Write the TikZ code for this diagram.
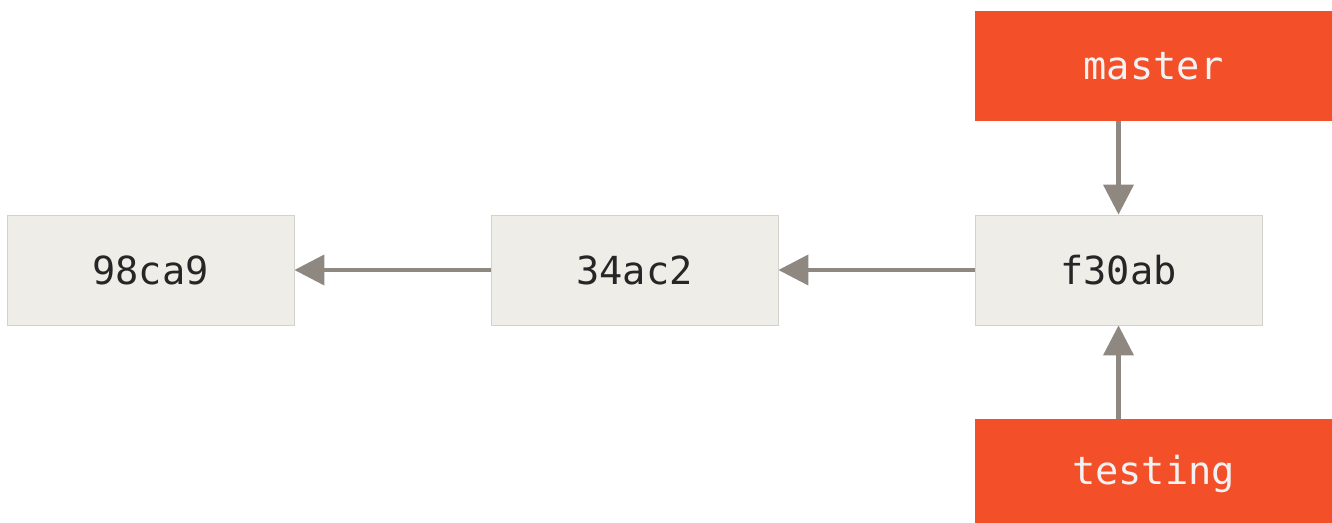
\documentclass[tikz,border=0pt]{standalone}
\usepackage{fontspec}
\setmonofont{DejaVu Sans Mono}
\usetikzlibrary{arrows.meta}

\definecolor{commitfill}{HTML}{EEEDE7}
\definecolor{commitline}{HTML}{D3D2CB}
\definecolor{branchred}{HTML}{F34F29}
\definecolor{arrowgray}{HTML}{8F8881}

\tikzset{
  commit/.style={rectangle, fill=commitfill, draw=commitline, line width=0.5pt,
    minimum width=5.74cm, minimum height=2.2cm, inner sep=0pt,
    font=\ttfamily\fontsize{22}{26}\selectfont, text=black!85},
  branch/.style={rectangle, fill=branchred, draw=none,
    minimum width=7.14cm, minimum height=2.2cm, inner sep=0pt,
    font=\ttfamily\fontsize{22}{26}\selectfont, text=white!95!black},
  parent/.style={draw=arrowgray, line width=2.3pt,
    -{Triangle[width=0.6cm,length=0.6cm]}, shorten >=0pt},
}

\begin{document}
\begin{tikzpicture}[x=0.02cm, y=-0.02cm]

\clip (0,0) rectangle (1332,523);

% commits
\node[commit] (c98ca9) at (150.5,270) {98ca9};
\node[commit] (c34ac2) at (634.5,270) {34ac2};
\node[commit] (cf30ab) at (1118.5,270) {f30ab};

% branches
\node[branch] (master)  at (1153.5,66)  {master};
\node[branch] (testing) at (1153.5,474) {testing};

\draw[parent] (c34ac2.west) -- (c98ca9.east);
\draw[parent] (cf30ab.west) -- (c34ac2.east);
\draw[parent] (cf30ab |- master.south) -- (cf30ab.north);
\draw[parent] (cf30ab |- testing.north) -- (cf30ab.south);

\end{tikzpicture}
\end{document}
